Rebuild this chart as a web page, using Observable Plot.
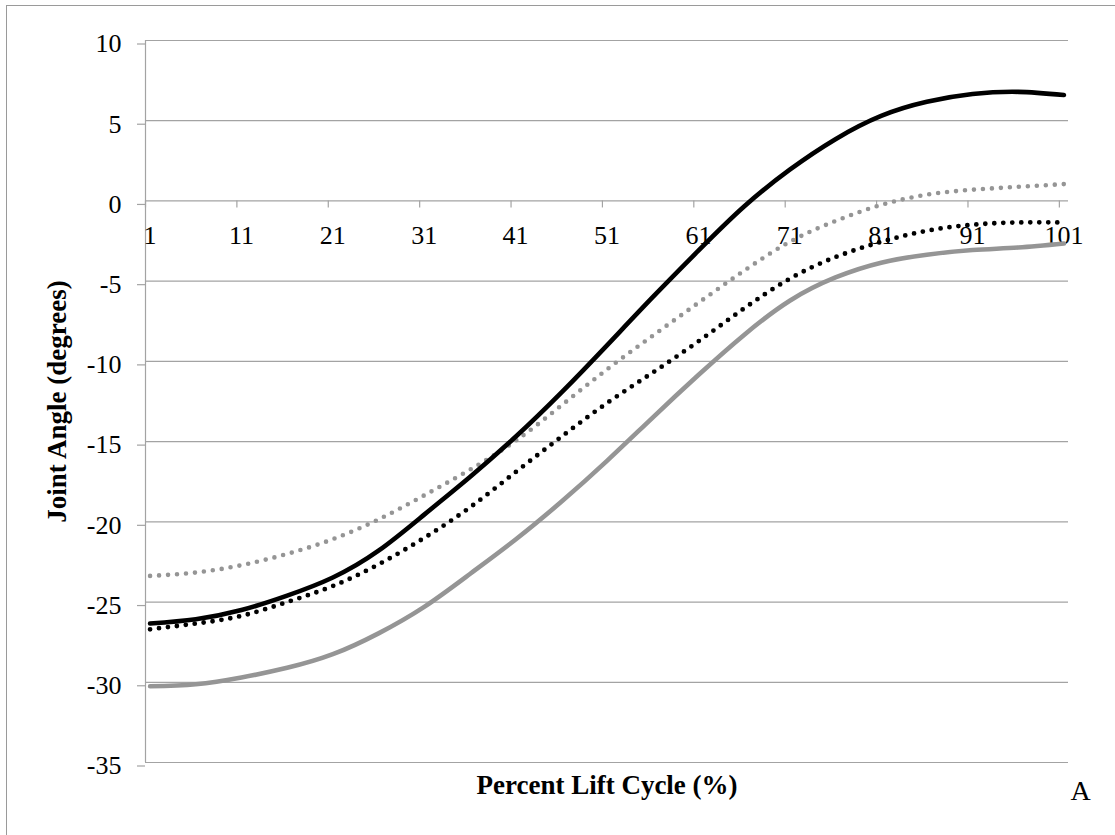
<!DOCTYPE html>
<html>
<head>
<meta charset="utf-8">
<script src="https://cdn.jsdelivr.net/npm/d3@7"></script>
<script src="https://cdn.jsdelivr.net/npm/@observablehq/plot@0.6"></script>
<style>
  html, body { margin: 0; padding: 0; background: #fff; }
  #chart { position: relative; width: 1115px; height: 835px; overflow: hidden; }
  #chart svg { display: block; }
  #chart .border {
    position: absolute; left: 6px; top: 5px; right: -10px; bottom: -10px;
    border-top: 1px solid #9a9a9a; border-left: 1px solid #9a9a9a;
    pointer-events: none;
  }
</style>
</head>
<body>
<div id="chart"><div class="border"></div></div>
<script>
// Percent of the lift cycle (categories 1..101), sampled every 5 %
const cycle = [1, 6, 11, 16, 21, 26, 31, 36, 41, 46, 51, 56, 61, 66, 71, 76, 81, 86, 91, 96, 101];

// Joint angle (degrees) for each trace
const solidBlack  = [-26.34, -26.07, -25.5, -24.6, -23.47, -21.8, -19.55, -17.2, -14.7, -11.95, -9.0, -6.0, -3.1, -0.35, 1.95, 3.85, 5.3, 6.18, 6.66, 6.8, 6.6];
const solidGray   = [-30.25, -30.12, -29.7, -29.1, -28.25, -26.95, -25.3, -23.25, -21.1, -18.75, -16.2, -13.5, -10.85, -8.35, -6.22, -4.77, -3.85, -3.35, -3.06, -2.9, -2.65];
const dottedGray  = [-23.37, -23.16, -22.7, -22.0, -21.08, -19.85, -18.35, -16.75, -14.95, -12.75, -10.5, -8.4, -6.35, -4.35, -2.55, -1.25, -0.25, 0.39, 0.7, 0.88, 1.05];
const dottedBlack = [-26.7, -26.34, -25.86, -25.0, -24.0, -22.65, -21.0, -19.1, -16.9, -14.7, -12.6, -10.7, -8.75, -6.7, -4.85, -3.5, -2.55, -1.86, -1.48, -1.34, -1.34];

// Axis ticks
const yTicks = [10, 5, 0, -5, -10, -15, -20, -25, -30, -35];
const xLabels = [1, 11, 21, 31, 41, 51, 61, 71, 81, 91, 101];
const xTickMarks = [0.5, 10.5, 20.5, 30.5, 40.5, 50.5, 60.5, 70.5, 80.5, 90.5, 100.5];

const xTitle = "Percent Lift Cycle (%)";
const yTitle = "Joint Angle (degrees)";
const panelTag = "A";

const rows = (values) => cycle.map((c, i) => ({cycle: c, angle: values[i]}));

const grid = "#a3a3a3";
const gray = "#959595";
const serif = "'Liberation Serif', 'Times New Roman', serif";

const chart = Plot.plot({
  width: 1115,
  height: 835,
  marginLeft: 145,
  marginRight: 47,
  marginTop: 40,
  marginBottom: 73,
  style: {fontFamily: serif, background: "transparent", color: "black"},
  x: {type: "linear", domain: [0.5, 101.5], axis: null},
  y: {type: "linear", domain: [-35, 10], axis: null},
  marks: [
    Plot.gridY(yTicks, {stroke: grid, strokeOpacity: 1, strokeWidth: 1.2}),
    Plot.axisY(yTicks, {
      anchor: "left", tickSize: 8, tickPadding: 16, stroke: grid, strokeWidth: 1.2,
      fill: "black", fontSize: 26, dy: 3.5, label: null, tickFormat: (d) => String(d)
    }),
    Plot.ruleX([0.5], {stroke: grid, strokeWidth: 1.2}),
    // category-axis tick marks crossing at zero
    Plot.ruleX(xTickMarks, {x: (d) => d, y1: 0, y2: 0, insetBottom: -7, stroke: grid, strokeWidth: 1.2}),
    Plot.text(xLabels, {x: (d) => d, y: 0, dy: 43, lineAnchor: "bottom", fontSize: 26, fill: "black"}),

    Plot.line(rows(solidGray), {x: "cycle", y: "angle", curve: "natural", stroke: gray, strokeWidth: 4.6, strokeLinecap: "round"}),
    Plot.line(rows(dottedGray), {x: "cycle", y: "angle", curve: "natural", stroke: gray, strokeWidth: 4.6, strokeLinecap: "round", strokeDasharray: "0 9"}),
    Plot.line(rows(dottedBlack), {x: "cycle", y: "angle", curve: "natural", stroke: "black", strokeWidth: 4.8, strokeLinecap: "round", strokeDasharray: "0 9"}),
    Plot.line(rows(solidBlack), {x: "cycle", y: "angle", curve: "natural", stroke: "black", strokeWidth: 4.6, strokeLinecap: "round"}),

    Plot.text([xTitle], {frameAnchor: "bottom", dy: 31, lineAnchor: "bottom", textAnchor: "middle", fontSize: 27, fontWeight: "bold", fill: "black"}),
    Plot.text([yTitle], {frameAnchor: "left", dx: -80, rotate: -90, lineAnchor: "bottom", textAnchor: "middle", fontSize: 27, fontWeight: "bold", fill: "black"}),
    Plot.text([panelTag], {frameAnchor: "bottom-right", dx: 12, dy: 37, lineAnchor: "bottom", textAnchor: "middle", fontSize: 28, fill: "black"})
  ]
});

document.getElementById("chart").prepend(chart);
</script>
</body>
</html>
